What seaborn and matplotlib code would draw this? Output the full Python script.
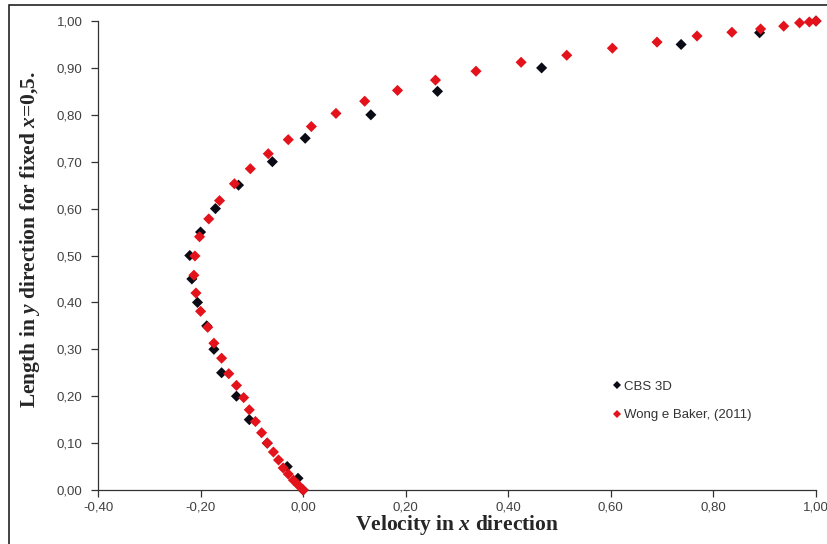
import matplotlib
matplotlib.use("Agg")
import matplotlib.pyplot as plt
import matplotlib.ticker as mticker
from matplotlib.patches import Rectangle
import seaborn as sns
import pandas as pd

# ---- data (u velocity along the vertical centre line) ----
CBS_Y = [0.0, 0.025, 0.05, 0.10, 0.15, 0.20, 0.25, 0.30, 0.35, 0.40, 0.45,
         0.50, 0.55, 0.60, 0.65, 0.70, 0.75, 0.80, 0.85, 0.90, 0.95, 0.975, 1.0]
CBS_U = [0.0, -0.010, -0.031, -0.070, -0.105, -0.130, -0.159, -0.174, -0.188,
         -0.206, -0.217, -0.221, -0.200, -0.171, -0.126, -0.060, 0.004, 0.132,
         0.262, 0.465, 0.737, 0.890, 1.0]

WONG_Y = [0.0, 0.011, 0.021, 0.034, 0.047, 0.064, 0.081, 0.100, 0.122, 0.146,
          0.171, 0.197, 0.223, 0.248, 0.281, 0.313, 0.347, 0.381, 0.420, 0.458,
          0.499, 0.540, 0.578, 0.617, 0.653, 0.685, 0.717, 0.747, 0.775, 0.803,
          0.829, 0.852, 0.874, 0.893, 0.912, 0.927, 0.942, 0.955, 0.968, 0.976,
          0.983, 0.989, 0.996, 0.998, 1.0]
WONG_U = [0.0, -0.010, -0.019, -0.029, -0.039, -0.048, -0.058, -0.070, -0.081,
          -0.093, -0.105, -0.116, -0.130, -0.145, -0.159, -0.174, -0.186, -0.200,
          -0.209, -0.213, -0.211, -0.202, -0.184, -0.163, -0.134, -0.103, -0.068,
          -0.029, 0.016, 0.064, 0.120, 0.184, 0.258, 0.337, 0.425, 0.514, 0.603,
          0.690, 0.768, 0.836, 0.892, 0.937, 0.968, 0.987, 1.0]

SERIES = ["CBS 3D", "Wong e Baker, (2011)"]
COLORS = {"CBS 3D": "#0b0b16", "Wong e Baker, (2011)": "#e3121b"}

X_TICKS = [-0.4, -0.2, 0.0, 0.2, 0.4, 0.6, 0.8, 1.0]
Y_TICKS = [0.0, 0.1, 0.2, 0.3, 0.4, 0.5, 0.6, 0.7, 0.8, 0.9, 1.0]

X_LABEL = r"Velocity in $x$ direction"
Y_LABEL = r"Length in $y$ direction for fixed $x$=0,5."


def comma_fmt(v, pos):
    return f"{v:.2f}".replace(".", ",")


def main():
    sns.set_style("ticks")
    plt.rcParams["font.family"] = ["Liberation Sans", "DejaVu Sans"]
    plt.rcParams["mathtext.fontset"] = "custom"
    plt.rcParams["mathtext.it"] = "Liberation Serif:italic:bold"
    plt.rcParams["mathtext.rm"] = "Liberation Serif:bold"

    df = pd.concat([
        pd.DataFrame({"u": CBS_U, "y": CBS_Y, "series": SERIES[0]}),
        pd.DataFrame({"u": WONG_U, "y": WONG_Y, "series": SERIES[1]}),
    ], ignore_index=True)

    fig = plt.figure(figsize=(8.28, 5.44), dpi=100)
    ax = fig.add_axes([98 / 828, 1 - 490 / 544, 718 / 828, 469 / 544])

    sns.scatterplot(
        data=df,
        x="u",
        y="y",
        hue="series",
        hue_order=SERIES,
        palette=COLORS,
        marker="D",
        s=32,
        linewidth=0,
        ax=ax,
        clip_on=False,
        zorder=3,
    )

    ax.set_xlim(-0.4, 1.0)
    ax.set_ylim(0.0, 1.0)
    ax.set_xticks(X_TICKS)
    ax.set_yticks(Y_TICKS)
    ax.xaxis.set_major_formatter(mticker.FuncFormatter(comma_fmt))
    ax.yaxis.set_major_formatter(mticker.FuncFormatter(comma_fmt))
    ax.tick_params(axis="both", direction="out", length=5, width=0.9,
                   color="#333333", labelsize=9.5, labelcolor="#404040", pad=6)
    ax.tick_params(axis="x", pad=3)

    for side in ["top", "right"]:
        ax.spines[side].set_visible(False)
    for side in ["left", "bottom"]:
        ax.spines[side].set_color("#333333")
        ax.spines[side].set_linewidth(0.9)

    ax.set_xlabel(X_LABEL, family="Liberation Serif", fontweight="bold",
                  fontsize=15.5, labelpad=0)
    ax.set_ylabel(Y_LABEL, family="Liberation Serif", fontweight="bold",
                  fontsize=15.5)
    ax.yaxis.set_label_coords(-0.078, 0.535)

    handles, labels = ax.get_legend_handles_labels()
    leg = ax.legend(
        handles,
        labels,
        loc="upper left",
        bbox_to_anchor=(0.717, 0.233),
        frameon=False,
        fontsize=9.5,
        handlelength=0.6,
        handletextpad=0.25,
        labelspacing=1.23,
        borderpad=0,
        borderaxespad=0,
        markerscale=0.75,
    )
    for t in leg.get_texts():
        t.set_color("#333333")

    # chart-area outline, cropped on the right and bottom as in the reference
    fig.patches.append(Rectangle((9 / 828, -0.05), 1.0, 1 - 5 / 544 + 0.05,
                                 transform=fig.transFigure, fill=False,
                                 edgecolor="#222222", linewidth=1.2))

    fig.savefig("out.png", dpi=100)
    plt.close(fig)


if __name__ == "__main__":
    main()
